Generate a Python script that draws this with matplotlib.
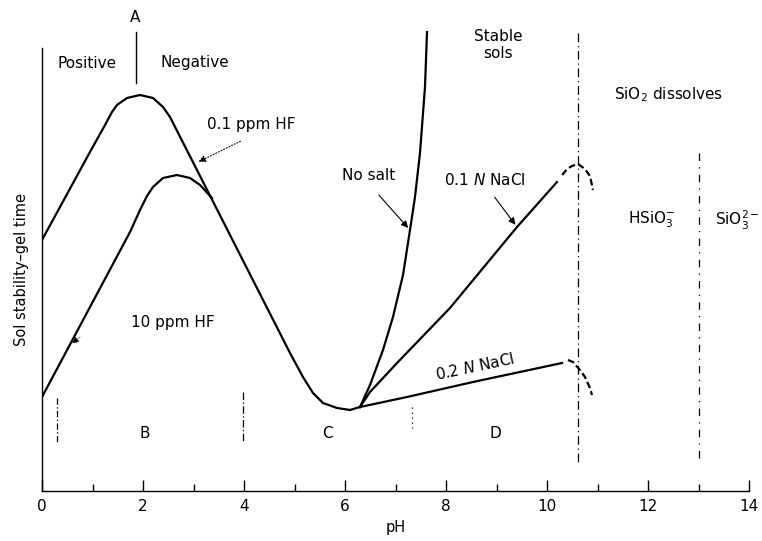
import matplotlib
matplotlib.use("Agg")
import matplotlib.pyplot as plt
from matplotlib.ticker import MultipleLocator

# ---- data (pH, relative stability) ----
hf01_ph = [0.0, 0.950, 1.248, 1.386, 1.485, 1.683, 1.941, 2.198, 2.396, 2.535,
           4.911, 5.168, 5.366, 5.564, 5.842, 6.099, 6.297]
hf01_st = [25.1, 33.9, 36.6, 37.9, 38.6, 39.3, 39.6, 39.3, 38.4, 37.4,
           13.8, 11.4, 9.8, 8.8, 8.3, 8.1, 8.4]

hf10_ph = [0.0, 1.743, 1.941, 2.079, 2.198, 2.396, 2.673, 2.931, 3.129, 3.366]
hf10_st = [9.4, 25.9, 28.1, 29.5, 30.4, 31.3, 31.6, 31.3, 30.6, 29.3]

nosalt_ph = [6.297, 6.495, 6.752, 6.950, 7.149, 7.287, 7.386, 7.485, 7.584, 7.624]
nosalt_st = [8.4, 10.6, 14.1, 17.4, 21.6, 26.1, 29.4, 33.8, 40.4, 45.9]

nacl01_ph = [6.297, 6.495, 7.030, 8.079, 9.406, 10.198]
nacl01_st = [8.4, 9.9, 12.8, 18.3, 26.4, 30.9]
nacl01_arc_ph = [10.30, 10.40, 10.495, 10.614, 10.752, 10.851, 10.911]
nacl01_arc_st = [31.6, 32.2, 32.5, 32.7, 32.2, 31.5, 30.1]

nacl02_ph = [6.297, 7.228, 8.535, 10.297]
nacl02_st = [8.4, 9.4, 10.9, 12.8]
nacl02_arc_ph = [10.416, 10.515, 10.653, 10.752, 10.851, 10.891]
nacl02_arc_st = [13.1, 12.9, 12.1, 11.4, 10.3, 9.6]

x_ticklabels = ["0", "2", "4", "6", "8", "10", "12", "14"]

# ---- figure ----
W, H = 762, 541
fig = plt.figure(figsize=(W / 100, H / 100), dpi=100)
ax = fig.add_axes([42 / W, 50 / H, 707 / W, 491 / H])
ax.set_xlim(0, 14)
ax.set_ylim(0, 49.1)

ax.spines["top"].set_visible(False)
ax.spines["right"].set_visible(False)
ax.spines["left"].set_bounds(0, 44.3)
ax.spines["left"].set_linewidth(1.0)
ax.spines["bottom"].set_linewidth(1.0)
ax.set_yticks([])

ax.xaxis.set_major_locator(MultipleLocator(2))
ax.xaxis.set_minor_locator(MultipleLocator(1))
ax.set_xticks(range(0, 15, 2))
ax.set_xticklabels(x_ticklabels)
ax.tick_params(axis="x", which="major", direction="in", length=8, width=1, pad=6, labelsize=11)
ax.tick_params(axis="x", which="minor", direction="in", length=5, width=1)
ax.set_xlabel("pH", fontsize=10.5, labelpad=4)

lw = 1.6
ax.plot(hf01_ph, hf01_st, color="black", lw=lw, solid_joinstyle="round")
ax.plot(hf10_ph, hf10_st, color="black", lw=lw, solid_joinstyle="round")
ax.plot(nosalt_ph, nosalt_st, color="black", lw=lw, solid_joinstyle="round")
ax.plot(nacl01_ph, nacl01_st, color="black", lw=lw, solid_joinstyle="round")
ax.plot(nacl02_ph, nacl02_st, color="black", lw=lw, solid_joinstyle="round")
ax.plot(nacl01_arc_ph, nacl01_arc_st, color="black", lw=lw, ls=(0, (3, 1.5)))
ax.plot(nacl02_arc_ph, nacl02_arc_st, color="black", lw=lw, ls=(0, (3, 1.5)))

# vertical guide lines
ax.plot([10.62, 10.62], [45.8, 2.9], color="black", lw=0.9, ls=(0, (7, 3, 1, 3)))
ax.plot([13.0, 13.0], [33.8, 2.9], color="black", lw=0.9, ls=(0, (6, 5, 1, 5)))
ax.plot([1.86, 1.86], [45.9, 40.8], color="black", lw=1.0)
ax.plot([0.3, 0.3], [9.3, 4.9], color="black", lw=0.9, ls=(0, (5, 2, 1, 2)))
ax.plot([3.98, 3.98], [9.9, 4.8], color="black", lw=0.9, ls=(0, (6, 2, 1, 2)))
ax.plot([7.33, 7.33], [8.4, 6.3], color="black", lw=0.9, ls=(0, (1, 3)))

# arrows
ax.annotate("", xy=(3.05, 32.8), xytext=(3.98, 35.1),
            arrowprops=dict(arrowstyle="-|>", color="black", lw=0.8, ls=":", mutation_scale=10))
ax.annotate("", xy=(7.287, 26.1), xytext=(6.634, 29.8),
            arrowprops=dict(arrowstyle="-|>", color="black", lw=0.8, mutation_scale=10))
ax.annotate("", xy=(9.406, 26.4), xytext=(8.931, 29.6),
            arrowprops=dict(arrowstyle="-|>", color="black", lw=0.8, mutation_scale=10))
ax.annotate("", xy=(0.56, 14.6), xytext=(0.80, 15.6),
            arrowprops=dict(arrowstyle="-|>", color="black", lw=0.3, mutation_scale=10))

fs = 11
tk = dict(color="black", fontsize=fs, ha="center", va="center", clip_on=False)
ax.text(1.84, 47.3, "A", **tk)
ax.text(0.89, 42.8, "Positive", **tk)
ax.text(3.03, 42.8, "Negative", **tk)
ax.text(4.14, 36.6, "0.1 ppm HF", **tk)
ax.text(2.59, 16.9, "10 ppm HF", **tk)
ax.text(6.46, 31.6, "No salt", **tk)
ax.text(9.03, 44.6, "Stable\nsols", linespacing=1.1, **tk)
ax.text(12.40, 39.6, "SiO$_2$ dissolves", **tk)
ax.text(8.77, 31.1, "0.1 $N$ NaCl", **tk)
ax.text(8.57, 12.4, "0.2 $N$ NaCl", rotation=12, rotation_mode="anchor", **tk)
ax.text(12.08, 27.1, "HSiO$_3^{-}$", **tk)
ax.text(13.76, 27.1, "SiO$_3^{2-}$", **tk)
ax.text(2.04, 5.8, "B", **tk)
ax.text(5.66, 5.8, "C", **tk)
ax.text(8.97, 5.8, "D", **tk)

fig.text(22 / W, 1 - 269 / H, "Sol stability\u2013gel time", rotation=90,
         fontsize=10.5, ha="center", va="center")

fig.savefig("out.png", dpi=100, facecolor="white")
